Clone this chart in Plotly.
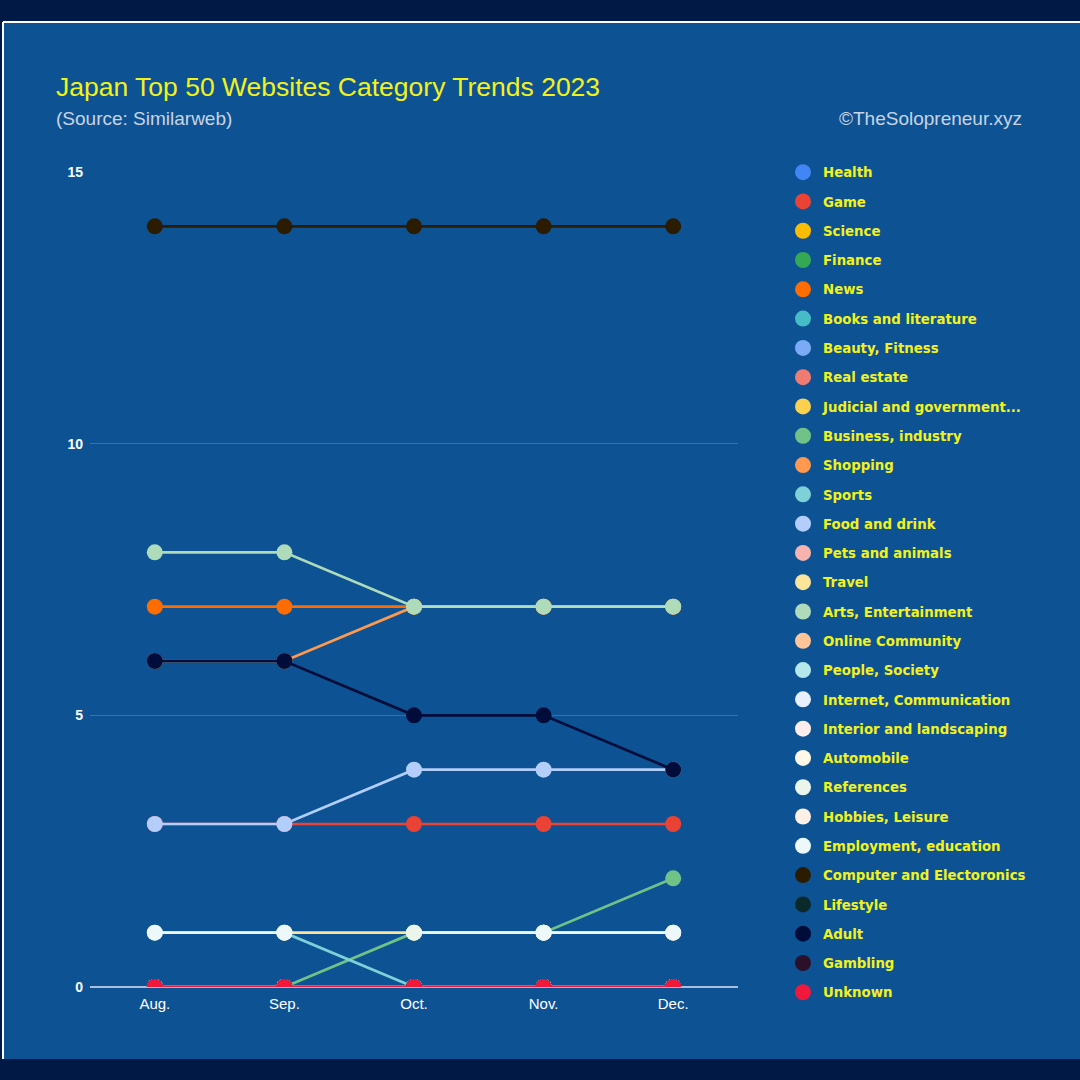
import plotly.graph_objects as go

months = ["Aug.", "Sep.", "Oct.", "Nov.", "Dec."]

categories = [
    "Health", "Game", "Science", "Finance", "News", "Books and literature",
    "Beauty, Fitness", "Real estate", "Judicial and government...",
    "Business, industry", "Shopping", "Sports", "Food and drink",
    "Pets and animals", "Travel", "Arts, Entertainment", "Online Community",
    "People, Society", "Internet, Communication", "Interior and landscaping",
    "Automobile", "References", "Hobbies, Leisure", "Employment, education",
    "Computer and Electoronics", "Lifestyle", "Adult", "Gambling", "Unknown",
]

colors = [
    "#4285f4", "#ea4335", "#fbbc04", "#34a853", "#ff6d01", "#46bdc6",
    "#7baaf7", "#f07b72", "#fcd04f", "#71c287", "#ff994d", "#7ed1d7",
    "#b3cefb", "#f7b4ae", "#fde49b", "#aedcba", "#ffc599", "#b5e8eb",
    "#e8f0fe", "#fdeceb", "#fff8e6", "#eaf6ec", "#fff0e6", "#ecf8f9",
    "#2b1b00", "#0a2a2a", "#000d3a", "#2a1028", "#f0193c",
]

N = None
values = {
    "Health": [0, 0, 0, 0, 0],
    "Game": [3, 3, 3, 3, 3],
    "Science": [0, 0, 0, 0, 0],
    "Finance": [0, 0, 0, 0, 0],
    "News": [7, 7, 7, 7, 7],
    "Books and literature": [0, 0, 0, 0, 0],
    "Beauty, Fitness": [0, 0, 0, 0, 0],
    "Real estate": [0, 0, 0, 0, 0],
    "Judicial and government...": [0, 0, 0, 0, 0],
    "Business, industry": [0, 0, 1, 1, 2],
    "Shopping": [6, 6, 7, 7, 7],
    "Sports": [1, 1, 0, 0, 0],
    "Food and drink": [3, 3, 4, 4, 4],
    "Pets and animals": [0, 0, 0, 0, 0],
    "Travel": [N, 1, 1, 1, 1],
    "Arts, Entertainment": [8, 8, 7, 7, 7],
    "Online Community": [0, 0, 0, 0, 0],
    "People, Society": [0, 0, 0, 0, 0],
    "Internet, Communication": [0, 0, 0, 0, 0],
    "Interior and landscaping": [0, 0, 0, 0, 0],
    "Automobile": [0, 0, 0, 0, 0],
    "References": [N, N, 1, 1, N],
    "Hobbies, Leisure": [0, 0, 0, 0, 0],
    "Employment, education": [1, 1, N, 1, 1],
    "Computer and Electoronics": [14, 14, 14, 14, 14],
    "Lifestyle": [0, 0, 0, 0, 0],
    "Adult": [6, 6, 5, 5, 4],
    "Gambling": [0, 0, 0, 0, 0],
    "Unknown": [0, 0, 0, 0, 0],
}

y_ticks = [0, 5, 10, 15]

W, H = 1080, 1080
ML, MR, MT, MB = 90, 342, 172, 93
PW, PH = W - ML - MR, H - MT - MB


def px(x):
    return (x - ML) / PW


def py(y):
    return (H - MB - y) / PH


fig = go.Figure()
for i, (cat, col) in enumerate(zip(categories, colors)):
    fig.add_trace(go.Scatter(
        x=months, y=values[cat], name=cat, mode="lines+markers",
        line=dict(color=col, width=2.7),
        marker=dict(color=col, size=16),
        legendgroup=f"g{i:02d}", showlegend=False,
        connectgaps=False, cliponaxis=True,
    ))
# marker-only legend entries
for i, (cat, col) in enumerate(zip(categories, colors)):
    fig.add_trace(go.Scatter(
        x=[None], y=[None], name=cat, mode="markers",
        marker=dict(color=col, size=16),
        legendgroup=f"g{i:02d}", showlegend=True,
    ))

shapes = [
    dict(type="rect", xref="paper", yref="paper", layer="below",
         x0=px(3), x1=px(1081), y0=py(1059), y1=py(22),
         fillcolor="#0d5394", line=dict(width=0)),
    dict(type="line", xref="paper", yref="paper", layer="below",
         x0=px(3), x1=px(1081), y0=py(22), y1=py(22),
         line=dict(color="#ffffff", width=2)),
    dict(type="line", xref="paper", yref="paper", layer="below",
         x0=px(3), x1=px(3), y0=py(1059), y1=py(22),
         line=dict(color="#ffffff", width=2)),
]

annotations = [
    dict(text="Japan Top 50 Websites Category Trends 2023", xref="paper", yref="paper",
         x=px(54), y=py(87), xanchor="left", yanchor="middle", showarrow=False,
         font=dict(family="Liberation Sans", size=26.5, color="#f2f21a")),
    dict(text="(Source: Similarweb)", xref="paper", yref="paper",
         x=px(54), y=py(119), xanchor="left", yanchor="middle", showarrow=False,
         font=dict(family="Liberation Sans", size=19, color="#c9d3e3")),
    dict(text="©TheSolopreneur.xyz", xref="paper", yref="paper",
         x=px(1024), y=py(119), xanchor="right", yanchor="middle", showarrow=False,
         font=dict(family="Liberation Sans", size=19, color="#c9d3e3")),
]

fig.update_layout(
    width=W, height=H,
    margin=dict(l=ML, r=MR, t=MT, b=MB, pad=0),
    paper_bgcolor="#001a45",
    plot_bgcolor="rgba(0,0,0,0)",
    shapes=shapes,
    annotations=annotations,
    showlegend=True,
    legend=dict(
        x=px(783), y=py(157), xanchor="left", yanchor="top",
        bgcolor="rgba(0,0,0,0)", borderwidth=0,
        font=dict(family="DejaVu Sans", size=13.3, color="#f2f21a", weight="bold"),
        tracegroupgap=9.0, traceorder="grouped",
        maxheight=1000,
    ),
    xaxis=dict(
        type="category", categoryorder="array", categoryarray=months,
        range=[-0.5, 4.5], showgrid=False, zeroline=False, showline=False,
        ticks="", tickfont=dict(family="Liberation Sans", size=15, color="#ffffff"),
        ticklabelstandoff=6,
    ),
    yaxis=dict(
        range=[0, 15], tickvals=y_ticks, showgrid=True, gridcolor="#3272b0",
        gridwidth=1, zeroline=True, zerolinecolor="#a9bfdc", zerolinewidth=2,
        showline=False, ticks="",
        tickfont=dict(family="Liberation Sans", size=14, color="#ffffff", weight="bold"),
        ticklabelstandoff=6,
    ),
)

fig.write_html(
    "out.html",
    config={"displayModeBar": False},
    post_script="document.body.style.margin='0';document.body.style.overflow='hidden';",
)
